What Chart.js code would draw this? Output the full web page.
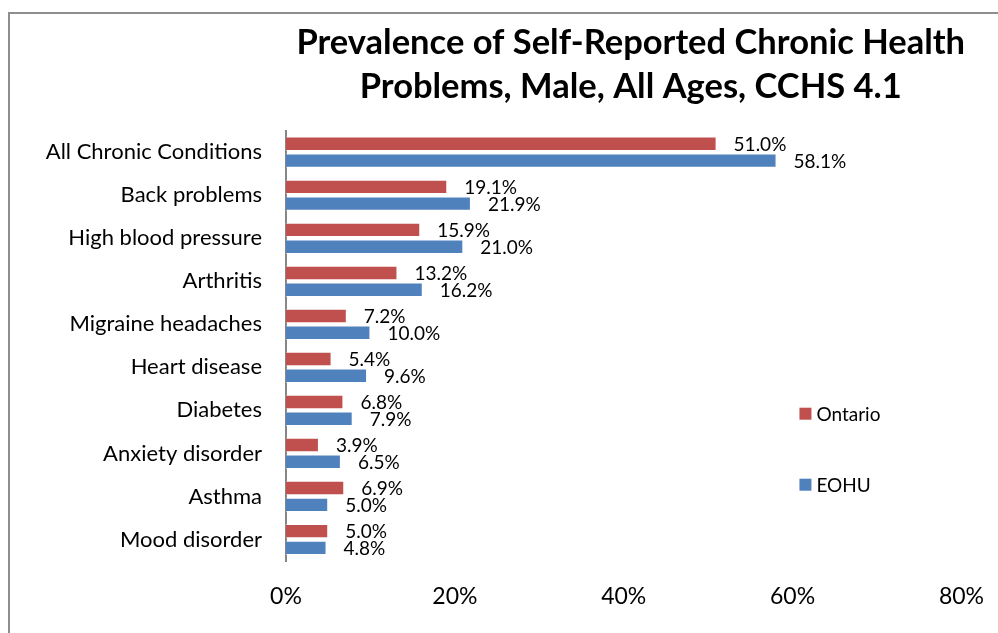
<!DOCTYPE html>
<html>
<head>
<meta charset="utf-8">
<script src="https://cdn.jsdelivr.net/npm/chart.js@4.4.1/dist/chart.umd.min.js"></script>
<style>
  html, body { margin: 0; padding: 0; background: #fff; }
  #wrap { width: 998px; height: 633px; }
</style>
</head>
<body>
<div id="wrap"><canvas id="chart" width="998" height="633"></canvas></div>
<script>
// data
const categories = ['All Chronic Conditions', 'Back problems', 'High blood pressure', 'Arthritis',
    'Migraine headaches', 'Heart disease', 'Diabetes', 'Anxiety disorder', 'Asthma', 'Mood disorder'];
const ontario = [51.0, 19.1, 15.9, 13.2, 7.2, 5.4, 6.8, 3.9, 6.9, 5.0];
const eohu = [58.1, 21.9, 21.0, 16.2, 10.0, 9.6, 7.9, 6.5, 5.0, 4.8];
const xTicks = [0, 20, 40, 60, 80];

const FONT = 'Lato, "Open Sans", sans-serif';

// 바깥 테두리
const framePlugin = {
    id: 'frame',
    beforeDraw(chart) {
        const c = chart.ctx;
        c.save();
        c.fillStyle = '#fff';
        c.fillRect(0, 0, chart.width, chart.height);
        c.strokeStyle = '#8e8e8e';
        c.lineWidth = 2;
        c.strokeRect(9, 13, 1200, 1000);
        c.restore();
    }
};

// 막대 끝 값 표시
const valueLabels = {
    id: 'valueLabels',
    afterDatasetsDraw(chart) {
        const c = chart.ctx;
        c.save();
        c.font = '19px ' + FONT;
        c.fillStyle = '#000';
        c.textBaseline = 'middle';
        c.textAlign = 'left';
        chart.data.datasets.forEach((ds, i) => {
            chart.getDatasetMeta(i).data.forEach((bar, j) => {
                c.fillText(ds.data[j].toFixed(1) + '%', bar.x + 17, bar.y + 1);
            });
        });
        c.restore();
    }
};

// 범례 (plot 안쪽 오른쪽)
const sideLegend = {
    id: 'sideLegend',
    afterDraw(chart) {
        const c = chart.ctx;
        const a = chart.chartArea;
        c.save();
        c.font = '19px ' + FONT;
        c.textBaseline = 'middle';
        chart.data.datasets.forEach((ds, i) => {
            const x = a.right - 162;
            const y = a.top + 283 + i * 71;
            c.fillStyle = ds.backgroundColor;
            c.fillRect(x, y - 6, 12, 12);
            c.fillStyle = '#000';
            c.fillText(ds.label, x + 17, y + 1);
        });
        c.restore();
    }
};

// 제목을 plot 영역 중심보다 살짝 오른쪽에
const titleShift = {
    id: 'titleShift',
    afterLayout(chart) {
        const t = chart.titleBlock;
        if (t) { t.left += 7; t.right += 7; }
    }
};

new Chart(document.getElementById('chart'), {
    type: 'bar',
    data: {
        labels: categories,
        datasets: [{
            label: 'Ontario',
            data: ontario,
            backgroundColor: '#C0504D',
            borderColor: 'rgba(255,255,255,0.5)',
            borderWidth: 1,
            categoryPercentage: 0.78,
            barPercentage: 0.86
        }, {
            label: 'EOHU',
            data: eohu,
            backgroundColor: '#4F81BD',
            borderColor: 'rgba(255,255,255,0.5)',
            borderWidth: 1,
            categoryPercentage: 0.78,
            barPercentage: 0.86
        }]
    },
    options: {
        indexAxis: 'y',
        responsive: false,
        maintainAspectRatio: false,
        animation: false,
        layout: { padding: { left: 8, right: 28, top: 0, bottom: 0 } },
        plugins: {
            legend: { display: false },
            tooltip: { enabled: false },
            title: {
                display: true,
                fullSize: false,
                text: ['Prevalence of Self-Reported Chronic Health', 'Problems, Male, All Ages, CCHS 4.1'],
                color: '#000',
                font: { family: FONT, size: 34.5, weight: 'bold', lineHeight: 1.3 },
                padding: { top: 20, bottom: 21 }
            }
        },
        scales: {
            x: {
                min: 0,
                max: 80,
                afterBuildTicks: s => { s.ticks = xTicks.map(v => ({ value: v })); },
                ticks: {
                    color: '#000',
                    font: { family: FONT, size: 23 },
                    padding: 14,
                    callback: v => v + '%'
                },
                grid: { display: false },
                border: { display: false },
                afterFit: s => { s.height = 72; }
            },
            y: {
                ticks: {
                    color: '#000',
                    font: { family: FONT, size: 22 },
                    padding: 16
                },
                grid: { display: false },
                border: { display: true, color: '#868686', width: 2 },
                afterFit: s => { s.width = 278; }
            }
        }
    },
    plugins: [framePlugin, valueLabels, sideLegend, titleShift]
});
</script>
</body>
</html>
